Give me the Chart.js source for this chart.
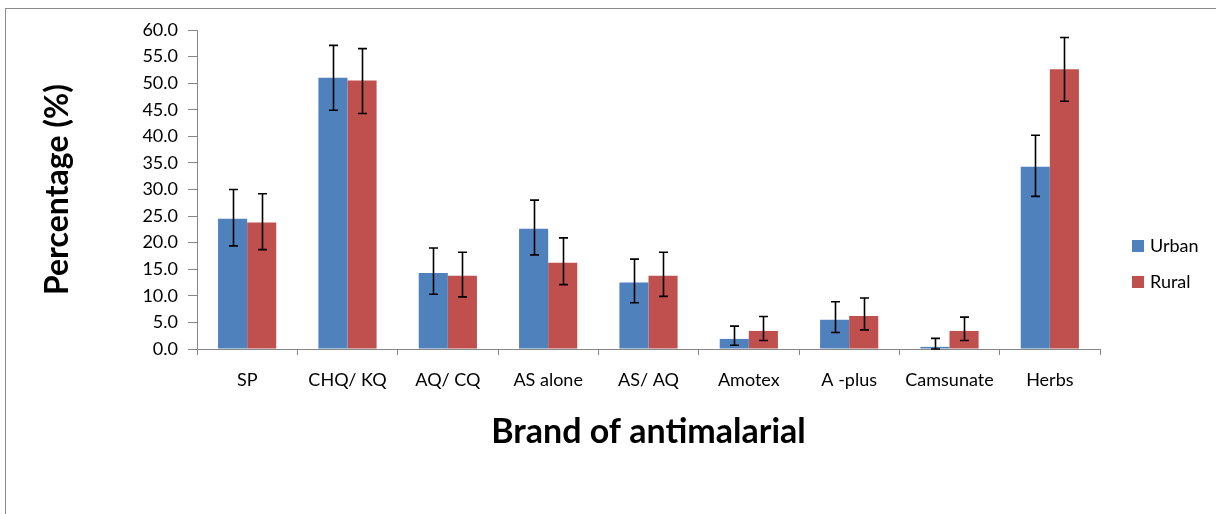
<!DOCTYPE html>
<html>
<head>
<meta charset="utf-8">
<script src="https://cdn.jsdelivr.net/npm/chart.js@4/dist/chart.umd.min.js"></script>
<style>
  html, body { margin: 0; padding: 0; background: #fff; overflow: hidden; }
  #wrap { position: relative; width: 1216px; height: 514px; }
  #frame {
    position: absolute; left: 5px; top: 8px; width: 1300px; height: 600px;
    border: 1px solid #8c8c8c; pointer-events: none;
  }
</style>
</head>
<body>
<div id="wrap">
  <canvas id="chart" width="1216" height="514"></canvas>
  <div id="frame"></div>
</div>
<script>
const categories = ["SP", "CHQ/ KQ", "AQ/ CQ", "AS alone", "AS/ AQ", "Amotex", "A -plus", "Camsunate", "Herbs"];
const urban = [24.5, 51.0, 14.3, 22.6, 12.5, 1.9, 5.5, 0.4, 34.3];
const rural = [23.8, 50.5, 13.8, 16.2, 13.8, 3.4, 6.2, 3.4, 52.6];
// error bar ends (low / high)
const urbanLow = [19.4, 44.9, 10.3, 17.7, 8.7, 0.7, 3.1, 0.0, 28.7];
const urbanHigh = [30.0, 57.1, 19.0, 28.0, 16.9, 4.3, 8.9, 2.0, 40.2];
const ruralLow = [18.7, 44.3, 9.8, 12.1, 9.9, 1.6, 3.6, 1.6, 46.6];
const ruralHigh = [29.2, 56.5, 18.2, 20.9, 18.2, 6.1, 9.6, 6.0, 58.6];
const yTicks = [0, 5, 10, 15, 20, 25, 30, 35, 40, 45, 50, 55, 60];

const axisGray = "#868686";

const errorBars = {
  id: "errorBars",
  afterDatasetsDraw(chart) {
    const ctx = chart.ctx;
    const y = chart.scales.y;
    ctx.save();
    ctx.strokeStyle = "#000";
    ctx.lineWidth = 1.6;
    chart.data.datasets.forEach((ds, i) => {
      const meta = chart.getDatasetMeta(i);
      meta.data.forEach((bar, j) => {
        const top = y.getPixelForValue(ds.errHigh[j]);
        const bot = y.getPixelForValue(ds.errLow[j]);
        const x = Math.round(bar.x) + 0.5;
        ctx.beginPath();
        ctx.moveTo(x, top);
        ctx.lineTo(x, bot);
        ctx.moveTo(x - 4.5, top);
        ctx.lineTo(x + 4.5, top);
        ctx.moveTo(x - 4.5, bot);
        ctx.lineTo(x + 4.5, bot);
        ctx.stroke();
      });
    });
    ctx.restore();
  }
};

const sideLegend = {
  id: "sideLegend",
  afterDraw(chart) {
    const ctx = chart.ctx;
    const x = chart.chartArea.right + 32;
    let yy = 246;
    ctx.save();
    ctx.font = "18px Lato";
    ctx.textBaseline = "middle";
    chart.data.datasets.forEach(ds => {
      ctx.fillStyle = ds.backgroundColor;
      ctx.fillRect(x, yy - 6, 12, 12);
      ctx.fillStyle = "#000";
      ctx.fillText(ds.label, x + 18, yy);
      yy += 36;
    });
    ctx.restore();
  }
};

new Chart(document.getElementById("chart"), {
  type: "bar",
  data: {
    labels: categories,
    datasets: [
      { label: "Urban", data: urban, errLow: urbanLow, errHigh: urbanHigh, backgroundColor: "#4F81BD" },
      { label: "Rural", data: rural, errLow: ruralLow, errHigh: ruralHigh, backgroundColor: "#C0504D" }
    ]
  },
  options: {
    responsive: false,
    animation: false,
    events: [],
    layout: { padding: { left: 6, top: 30, right: 116, bottom: 0 } },
    datasets: { bar: { barPercentage: 1, categoryPercentage: 0.58 } },
    plugins: {
      legend: { display: false },
      tooltip: { enabled: false }
    },
    scales: {
      x: {
        afterFit: s => { s.height = 165; },
        grid: { drawOnChartArea: false, color: axisGray, tickLength: 6 },
        border: { color: axisGray, width: 1 },
        ticks: { color: "#000", font: { family: "Lato", size: 18 }, padding: 14 },
        title: {
          display: true,
          text: "Brand of antimalarial",
          color: "#000",
          font: { family: "Lato", size: 34, weight: "bold" },
          padding: { top: 0, bottom: 62 }
        }
      },
      y: {
        min: 0,
        max: 60,
        afterFit: s => { s.width = 191; },
        afterBuildTicks: s => { s.ticks = yTicks.map(v => ({ value: v })); },
        grid: { drawOnChartArea: false, color: axisGray, tickLength: 9 },
        border: { color: axisGray, width: 1 },
        ticks: {
          color: "#000",
          font: { family: "Lato", size: 18 },
          padding: 10,
          callback: v => Number(v).toFixed(1)
        },
        title: {
          display: true,
          text: "Percentage (%)",
          color: "#000",
          font: { family: "Lato", size: 32, weight: "bold" },
          padding: { top: 32, bottom: 0 }
        }
      }
    }
  },
  plugins: [errorBars, sideLegend]
});
</script>
</body>
</html>
